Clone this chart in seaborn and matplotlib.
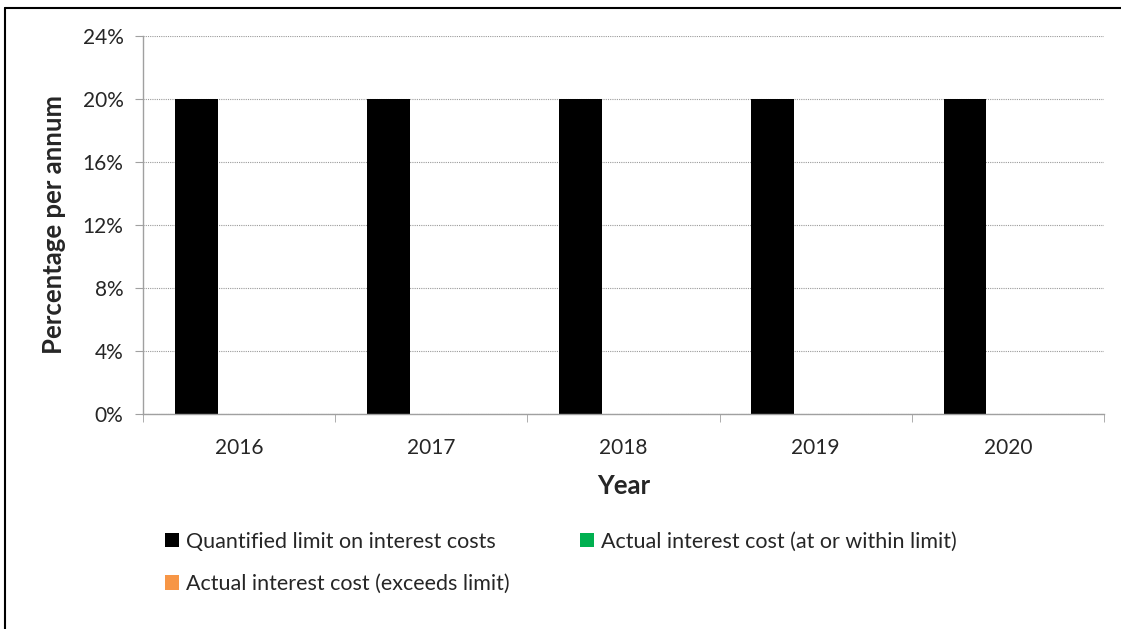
import numpy as np
import pandas as pd
import matplotlib as mpl
from matplotlib import pyplot as plt
import seaborn as sns

sns.set_style("white")
plt.rcParams['font.family'] = ['Lato', 'DejaVu Sans']

years = ['2016', '2017', '2018', '2019', '2020']
limit = [20, 20, 20, 20, 20]
within = [0, 0, 0, 0, 0]
exceeds = [0, 0, 0, 0, 0]
series = ['Quantified limit on interest costs',
          'Actual interest cost (at or within limit)',
          'Actual interest cost (exceeds limit)']
colors = ['#000000', '#00B050', '#F79646']

df = pd.DataFrame({'Year': years * 3,
                   'value': limit + within + exceeds,
                   'Series': [s for s in series for _ in years]})

fig = plt.figure(figsize=(11.21, 6.29), dpi=100)
ax = fig.add_axes([143 / 1121, 1 - 414 / 629, (1104 - 143) / 1121, (414 - 36) / 629])

sns.barplot(data=df, x='Year', y='value', hue='Series', hue_order=series,
            palette=colors, saturation=1, width=0.67, ax=ax, errorbar=None,
            edgecolor='none', gap=0)

ax.set_ylim(0, 24)
ax.set_yticks(range(0, 25, 4))
ax.yaxis.set_major_formatter(mpl.ticker.FuncFormatter(lambda v, p: f"{int(v)}%"))
ax.set_xlim(-0.5, 4.5)
ax.grid(axis='y', color='#9a9a9a', linestyle=(0, (1, 1)), linewidth=0.8)
ax.set_axisbelow(True)
for s in ['top', 'right']:
    ax.spines[s].set_visible(False)
for s in ['left', 'bottom']:
    ax.spines[s].set_color('#a0a0a0')
    ax.spines[s].set_linewidth(1)
ax.set_xticks(np.arange(-0.5, 5, 1), minor=True)
ax.tick_params(axis='x', which='major', length=0, labelsize=15, pad=17)
ax.tick_params(axis='x', which='minor', length=6, color='#a0a0a0', direction='out', bottom=True)
ax.tick_params(axis='y', length=6, color='#a0a0a0', direction='out', left=True, labelsize=15, pad=8)
ax.set_xlabel('Year', fontsize=18.5, fontweight='bold', labelpad=12)
ax.set_ylabel('Percentage per annum', fontsize=18.5, fontweight='bold', labelpad=12)

# row-major order: black, green on first row, orange below
handles, labels = ax.get_legend_handles_labels()
order = [0, 2, 1]
ax.legend(handles=[handles[i] for i in order], labels=[labels[i] for i in order],
          ncol=2, loc='upper left',
          bbox_to_anchor=(156 / 1121, 1 - 523 / 629), bbox_transform=fig.transFigure,
          frameon=False, fontsize=15.5, handlelength=0.65, handleheight=0.65,
          handletextpad=0.35, columnspacing=3.25, labelspacing=1.05, borderaxespad=0)

fig.add_artist(mpl.lines.Line2D([4.5 / 1121, 1], [1 - 8 / 629, 1 - 8 / 629], color='black', linewidth=1.5))
fig.add_artist(mpl.lines.Line2D([4.5 / 1121, 4.5 / 1121], [0, 1 - 8 / 629], color='black', linewidth=1.5))
fig.savefig('out.png', dpi=100)
